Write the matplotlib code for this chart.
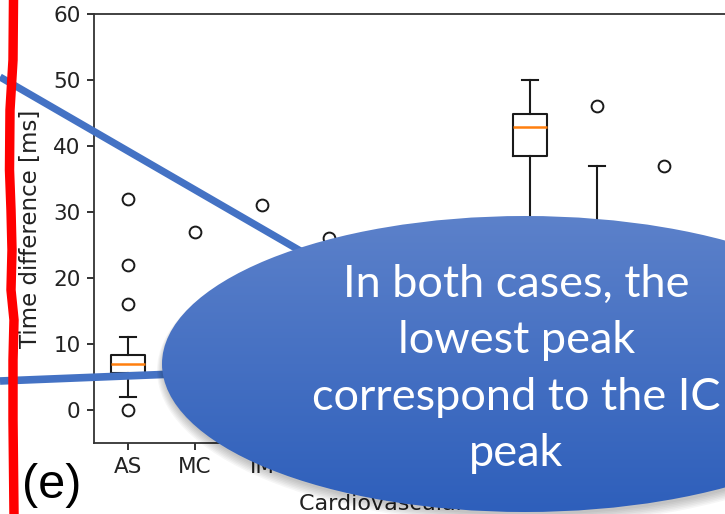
import matplotlib
matplotlib.use("Agg")
import matplotlib.pyplot as plt
from matplotlib.patches import Ellipse
import numpy as np

# Time difference between peaks per cardiovascular condition
categories = ["AS", "MC", "IM", "MS", "AR", "TR", "PDA", "VSD", "ASD"]
whislo = [2, 1, 1, 2, 1, 2, 26, 10, 6]
q1 = [5.6, 4, 5, 6, 5, 6, 38.5, 18, 12]
med = [6.9, 6, 8, 9, 8, 10, 42.9, 22, 15]
q3 = [8.3, 9, 12, 13, 12, 15, 44.8, 27, 19]
whishi = [11, 13, 18, 20, 18, 22, 50, 37, 24]
fliers = [[0, 16, 22, 32], [27], [31], [26], [], [], [], [46], [37]]

callout_text = "In both cases, the\nlowest peak\ncorrespond to the IC\npeak"

W, H = 725, 514
fig = plt.figure(figsize=(W / 100, H / 100), dpi=100)

# box plot (runs off the right edge on purpose)
ax = fig.add_axes([94.5 / W, 71 / H, 636.5 / W, 429 / H])
stats = []
for i, name in enumerate(categories):
    stats.append(dict(label=name, whislo=whislo[i], q1=q1[i], med=med[i],
                      q3=q3[i], whishi=whishi[i], fliers=fliers[i]))
ax.bxp(stats, widths=0.5,
       boxprops=dict(linewidth=1.5, color="#1a1a1a"),
       whiskerprops=dict(linewidth=1.5, color="#1a1a1a"),
       capprops=dict(linewidth=1.5, color="#1a1a1a"),
       medianprops=dict(linewidth=1.8, color="#ff7f0e"),
       flierprops=dict(marker="o", markersize=8.5, markerfacecolor="none",
                       markeredgecolor="#1a1a1a", markeredgewidth=1.4))
ax.set_xlim(0.5, len(categories) + 1)
ax.set_ylim(-5, 60)
ax.set_yticks([0, 10, 20, 30, 40, 50, 60])
ax.tick_params(labelsize=15.5, length=5, width=1.3, pad=5, colors="#222222")
ax.set_ylabel("Time difference [ms]", fontsize=16.5, color="#222222", labelpad=8)
ax.set_xlabel("Cardiovascular disease", fontsize=16, color="#222222")
ax.xaxis.set_label_coords(0.524, -0.119)
for s in ax.spines.values():
    s.set_linewidth(1.3)
    s.set_color("#333333")

# overlay in pixel coordinates for the callout and markings
ov = fig.add_axes([0, 0, 1, 1])
ov.set_xlim(0, W)
ov.set_ylim(H, 0)
ov.axis("off")

blue = "#4472c4"
ov.plot([0, 330], [77, 268], color=blue, lw=5.2, solid_capstyle="butt", zorder=1)
ov.plot([0, 200], [381, 373], color=blue, lw=5.5, solid_capstyle="butt", zorder=1)

cx, cy, a, b = 525, 364, 363, 148

# soft shadow under the bubble
for k in range(7):
    ov.add_patch(Ellipse((cx + 1, cy + 3 + k * 0.6), 2 * a + 2 * k, 2 * b + 2 * k,
                         facecolor="black", edgecolor="none", alpha=0.035, zorder=2))

bubble = Ellipse((cx, cy), 2 * a, 2 * b, facecolor="none", edgecolor="none", zorder=3)
ov.add_patch(bubble)
grad = np.linspace(0, 1, 256).reshape(-1, 1)
top_c = np.array([0x5c, 0x81, 0xca]) / 255
bot_c = np.array([0x2e, 0x5f, 0xbb]) / 255
img = top_c[None, None, :] * (1 - grad[:, :, None]) + bot_c[None, None, :] * grad[:, :, None]
im = ov.imshow(img, extent=(cx - a, cx + a, cy + b, cy - b), aspect="auto",
               origin="upper", zorder=3)
im.set_clip_path(bubble)
ov.set_xlim(0, W)
ov.set_ylim(H, 0)

ov.text(516.5, 369, callout_text, color="white", fontsize=32.5, family="Lato",
        ha="center", va="center", linespacing=1.47, zorder=4)

# red margin mark on the left
red_y = [0, 60, 110, 170, 210, 250, 290, 320, 360, 420, 514]
red_x = [13.5, 13, 10, 9.5, 11, 12, 11, 14, 13, 13, 14]
ov.plot(red_x, red_y, color="#ff0000", lw=6.8, solid_joinstyle="round", zorder=5)

ov.text(22, 498, "(e)", fontsize=35, family="Liberation Sans", color="black",
        ha="left", va="baseline", zorder=5)

fig.savefig("out.png", dpi=100)
